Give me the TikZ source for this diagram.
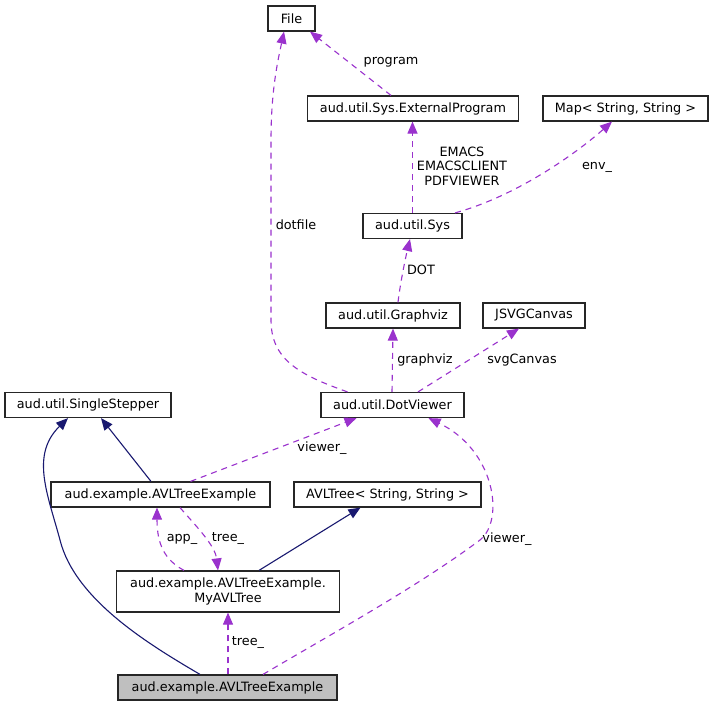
\documentclass[tikz,border=0pt]{standalone}
\usepackage{fontspec}
\setmainfont{DejaVu Sans}
\usetikzlibrary{arrows.meta}
\definecolor{edgep}{HTML}{9A32CD}
\definecolor{edgen}{HTML}{191970}
\definecolor{boxfill}{HTML}{BFBFBF}
\begin{document}
\begin{tikzpicture}[x=1pt,y=-1pt,
  cls/.style={draw=black!85, line width=1.2pt, fill=white, inner sep=0pt, minimum height=25pt, font=\fontsize{12.8}{15}\selectfont, align=center},
  dep/.style={draw=edgep, line width=1.1pt, dash pattern=on 6pt off 5pt, -{Triangle[length=12pt,width=10pt,fill=edgep]}},
  inh/.style={draw=edgen, line width=1.1pt, -{Triangle[length=12pt,width=10pt,fill=edgen]}},
  lab/.style={font=\fontsize{12.8}{14.5}\selectfont, inner sep=0pt, align=center}]
\fill[white] (0,0) rectangle (713,707);
\useasboundingbox (0,0) rectangle (713,707);

% nodes
\node[cls, minimum width=47pt] (file) at (291.5,18.5) {File};
\node[cls, minimum width=211pt] (ext) at (413,108.5) {aud.util.Sys.ExternalProgram};
\node[cls, minimum width=165pt] (map) at (625.5,108.5) {Map< String, String >};
\node[cls, minimum width=99pt] (sys) at (412.5,226) {aud.util.Sys};
\node[cls, minimum width=134pt] (gv) at (393,315.5) {aud.util.Graphviz};
\node[cls, minimum width=102pt] (svg) at (534,315.5) {JSVGCanvas};
\node[cls, minimum width=143pt] (dv) at (392.5,405) {aud.util.DotViewer};
\node[cls, minimum width=166pt] (ss) at (88,405) {aud.util.SingleStepper};
\node[cls, minimum width=219pt] (ex) at (160.5,494.5) {aud.example.AVLTreeExample};
\node[cls, minimum width=187pt] (avl) at (387.5,494.5) {AVLTree< String, String >};
\node[cls, minimum width=223pt, minimum height=41pt] (my) at (228,591.5) {aud.example.AVLTreeExample.\\MyAVLTree};
\node[cls, minimum width=219pt, fill=boxfill] (main) at (227.5,687.5) {aud.example.AVLTreeExample};

% edges
\draw[dep] ([xshift=-45pt]dv.north) .. controls (300,375) and (271,360) .. (271,320) -- (271,140) .. controls (271,90) and (278,60) .. ([xshift=-7.5pt]file.south);
\node[lab] (l_dotfile) at (296,225) {dotfile};

\draw[dep] ([xshift=-22pt]ext.north) -- ([xshift=18.5pt]file.south);
\node[lab] (l_program) at (391,62) {program};

\draw[dep] (sys.north) -- (sys.north |- ext.south);
\node[lab] (l_emacs) at (462,166) {EMACS\\EMACSCLIENT\\PDFVIEWER};

\draw[dep] ([xshift=42.5pt]sys.north) .. controls (520,195) and (580,150) .. ([xshift=-13.5pt]map.south);
\node[lab] (l_env) at (597,167) {env\_};

\draw[dep] ([xshift=5pt]gv.north) .. controls (400,285) and (405,260) .. ([xshift=-2.5pt]sys.south);
\node[lab] (l_dot) at (421,270) {DOT};

\draw[dep] ([xshift=-0.5pt]dv.north) -- (gv.south);
\node[lab] (l_gv) at (425,360) {graphviz};

\draw[dep] ([xshift=25.5pt]dv.north) -- ([xshift=-15pt]svg.south);
\node[lab] (l_svg) at (522,360) {svgCanvas};

\draw[dep] ([xshift=30pt]ex.north) -- ([xshift=-36pt]dv.south);
\node[lab] (l_viewer1) at (322,448) {viewer\_};

\draw[inh] ([xshift=-9.5pt]ex.north) -- ([xshift=13pt]ss.south);

\draw[inh] ([xshift=-27.5pt]main.north) .. controls (150,645) and (75,600) .. (60,540) .. controls (48,495) and (30,455) .. ([xshift=-20pt]ss.south);

\draw[inh] ([xshift=31pt]my.north) -- ([xshift=-27pt]avl.south);

\draw[dep] ([xshift=-44pt]my.north) .. controls (165,560) and (157,545) .. ([xshift=-3.5pt]ex.south);
\node[lab] (l_app) at (182,539) {app\_};

\draw[dep] ([xshift=19.5pt]ex.south) .. controls (195,525) and (215,545) .. ([xshift=-10pt]my.north);
\node[lab] (l_tree1) at (228,539) {tree\_};

\draw[dep] ([xshift=0.5pt]main.north) -- (my.south);
\node[lab] (l_tree2) at (248,643) {tree\_};

\draw[dep] ([xshift=35.5pt]main.north) .. controls (335,632) and (420,585) .. (480,540) .. controls (505,520) and (495,450) .. ([xshift=36pt]dv.south);
\node[lab] (l_viewer2) at (507,539) {viewer\_};
\end{tikzpicture}
\end{document}
